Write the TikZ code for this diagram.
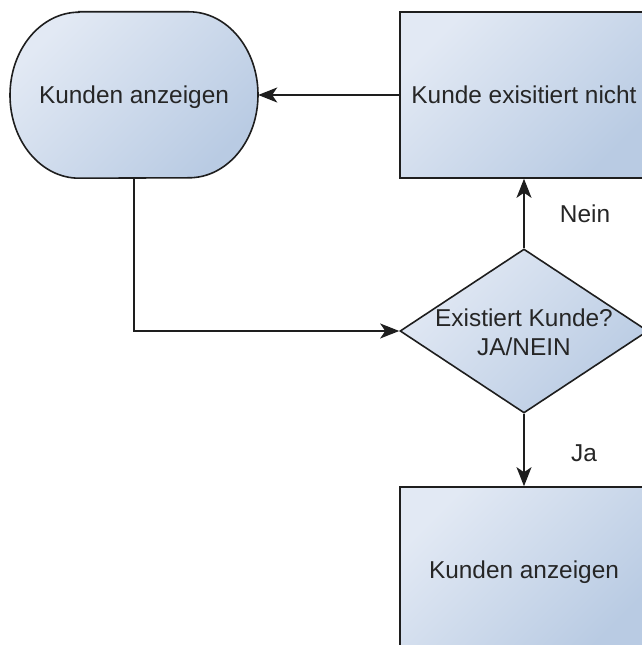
\documentclass[tikz,border=0pt]{standalone}
\usepackage{fontspec}
\setmainfont{Liberation Sans}
\usetikzlibrary{shapes.geometric,arrows.meta,backgrounds}
\definecolor{fillLight}{HTML}{E2E9F4}
\definecolor{fillDark}{HTML}{B9CBE3}
\definecolor{edgeline}{HTML}{1E1E1E}
\definecolor{ink}{HTML}{262626}
\newcommand\diagfont{\fontsize{24.4}{29}\selectfont}
\begin{document}
\begin{tikzpicture}[x=1pt,y=1pt,
  shapefill/.style={top color=fillLight, bottom color=fillDark, shading angle=45,
    draw=edgeline, line width=1.6pt},
  lbl/.style={font=\diagfont, text=ink, inner sep=0pt},
  onelabel/.style={lbl, text height=17.5pt, text depth=0pt},
  procbox/.style={shapefill, onelabel, rectangle, minimum width=248pt, minimum height=166pt},
  termarea/.style={onelabel, rectangle, minimum width=248pt, minimum height=166pt},
  decision/.style={shapefill, diamond, inner sep=0pt, minimum width=248pt, minimum height=164pt},
  conn/.style={draw=edgeline, line width=1.6pt,
    -{Stealth[length=19pt,width=15pt,inset=5pt]}},
]
\useasboundingbox (0,0) rectangle (642,645);
\clip (0,0) rectangle (642,645);

% terminator with elliptical ends
\node[termarea] (term) at (134,550) {Kunden anzeigen};
\begin{scope}[on background layer]
  \path[shapefill] ([xshift=-55pt]term.north) -- ([xshift=55pt]term.north)
    arc[start angle=90, end angle=-90, x radius=69pt, y radius=83pt]
    -- ([xshift=-55pt]term.south)
    arc[start angle=-90, end angle=-270, x radius=69pt, y radius=83pt] -- cycle;
\end{scope}

% process boxes and decision
\node[procbox] (missing) at (524,550) {Kunde exisitiert nicht};
\node[decision] (dec) at (524,314) {};
\node[lbl, align=center] (dectext) at ([yshift=-1.5pt]dec.center) {Existiert Kunde?\\JA/NEIN};
\node[procbox] (show) at (524,75) {Kunden anzeigen};

% connectors
\draw[conn] (missing.west) -- (term.east);
\draw[conn] (term.south) |- (dec.west);
\draw[conn] (dec.north) -- (missing.south);
\draw[conn] (dec.south) -- (show.north);

% branch labels
\node[onelabel] (nein) at (585,431) {Nein};
\node[onelabel] (ja) at (584,192) {Ja};
\end{tikzpicture}
\end{document}
